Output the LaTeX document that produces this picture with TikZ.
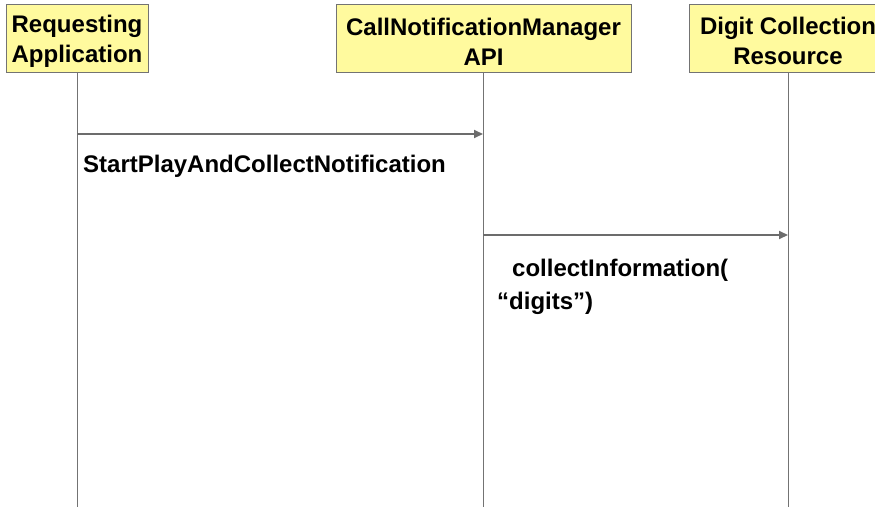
\documentclass[tikz,border=0pt]{standalone}
\usepackage{fontspec}
\setmainfont{Liberation Sans}
\usetikzlibrary{arrows.meta}

\newcommand{\actorstrut}{\rule{0pt}{24pt}}

\begin{document}
\begin{tikzpicture}[
            x=1pt, y=-1pt,
            actor/.style={draw=gray!90!black, fill=yellow!38, line width=1pt, inner sep=0pt, align=center, minimum height=68pt, font=\fontsize{24}{30}\selectfont\bfseries},
            lifeline/.style={gray!90!black, line width=1pt},
            msg/.style={gray!85!black, line width=2pt, -{Triangle[length=9pt,width=8pt]}},
            msglabel/.style={inner sep=0pt, anchor=base west, align=left, font=\fontsize{24}{33}\selectfont\bfseries}
        ]

        % Frame
        \clip (0,0) rectangle (875,506);

        % Actors
        \node[actor, minimum width=142pt] (req) at (77,38) {\actorstrut Requesting\\Application};
        \node[actor, minimum width=295pt] (cnm) at (483.5,38) {\actorstrut CallNotificationManager\\API};
        \node[actor, minimum width=198pt] (dcr) at (788,38) {\actorstrut Digit Collection\\Resource};

        % Lifeline ends
        \coordinate (reqEnd) at (77,510);
        \coordinate (cnmEnd) at (483,510);
        \coordinate (dcrEnd) at (788,510);

        % Lifelines
        \draw[lifeline] (req.south) -- (reqEnd);
        \draw[lifeline] (cnm.south -| cnmEnd) -- (cnmEnd);
        \draw[lifeline] (dcr.south) -- (dcrEnd);

        % Message points
        \coordinate (reqA) at (77,134);
        \coordinate (cnmA) at (483,134);
        \coordinate (cnmB) at (483,235);
        \coordinate (dcrB) at (788,235);

        % Messages
        \draw[msg] (reqA) -- (cnmA);
        \node[msglabel] (startLbl) at (83,172) {StartPlayAndCollectNotification};

        \draw[msg] (cnmB) -- (dcrB);
        \node[msglabel] (collectLbl) at (497,309) {\hspace{15pt}collectInformation(\\“digits”)};

    \end{tikzpicture}
\end{document}
